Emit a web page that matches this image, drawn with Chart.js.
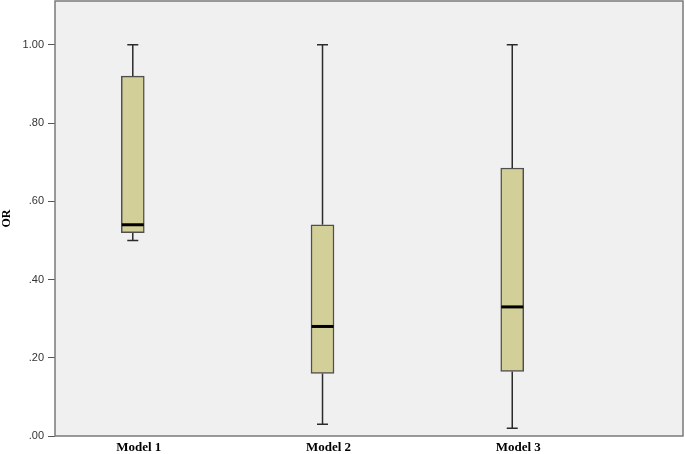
<!DOCTYPE html>
<html>
<head>
<meta charset="utf-8">
<script src="https://cdn.jsdelivr.net/npm/chart.js@4.4.1/dist/chart.umd.min.js"></script>
<style>
  html, body { margin: 0; padding: 0; background: #ffffff; }
  #wrap { width: 685px; height: 454px; }
</style>
</head>
<body>
<div id="wrap"><canvas id="boxChart"></canvas></div>
<script>
// box plot data
const categories = ["Model 1", "Model 2", "Model 3"];
const positions = [1, 2, 3];
const whiskerLow = [0.50, 0.03, 0.02];
const quartile1 = [0.52, 0.16, 0.165];
const medians = [0.54, 0.28, 0.33];
const quartile3 = [0.92, 0.54, 0.685];
const whiskerHigh = [1.00, 1.00, 1.00];
const yTicks = [0, 0.2, 0.4, 0.6, 0.8, 1.0];

const boxes = positions.map((p, i) => ({ x: p, y: [quartile1[i], quartile3[i]] }));

// plot background + frame
const frame = {
    id: "frame",
    beforeDraw(chart) {
        const a = chart.chartArea, c = chart.ctx;
        c.save();
        c.fillStyle = "#f0f0f0";
        c.fillRect(a.left, a.top, a.right - a.left, a.bottom - a.top);
        c.restore();
    },
    afterDraw(chart) {
        const a = chart.chartArea, c = chart.ctx;
        c.save();
        c.strokeStyle = "#7a7a7a";
        c.lineWidth = 1.5;
        c.strokeRect(a.left, a.top, a.right - a.left, a.bottom - a.top);
        c.restore();
    }
};

// whiskers behind the boxes, medians on top
const boxParts = {
    id: "boxParts",
    beforeDatasetsDraw(chart) {
        const xs = chart.scales.x, ys = chart.scales.y, c = chart.ctx;
        c.save();
        c.strokeStyle = "#2b2b2b";
        c.lineWidth = 1.5;
        positions.forEach((p, i) => {
            const x = xs.getPixelForValue(p);
            const cap = 5.5;
            const lo = ys.getPixelForValue(whiskerLow[i]);
            const hi = ys.getPixelForValue(whiskerHigh[i]);
            c.beginPath();
            c.moveTo(x, hi); c.lineTo(x, ys.getPixelForValue(quartile3[i]));
            c.moveTo(x, lo); c.lineTo(x, ys.getPixelForValue(quartile1[i]));
            c.moveTo(x - cap, hi); c.lineTo(x + cap, hi);
            c.moveTo(x - cap, lo); c.lineTo(x + cap, lo);
            c.stroke();
        });
        c.restore();
    },
    afterDatasetsDraw(chart) {
        const xs = chart.scales.x, ys = chart.scales.y, c = chart.ctx;
        const half = 11;
        c.save();
        c.strokeStyle = "#000000";
        c.lineWidth = 3;
        positions.forEach((p, i) => {
            const x = xs.getPixelForValue(p);
            const m = ys.getPixelForValue(medians[i]);
            c.beginPath();
            c.moveTo(x - half, m); c.lineTo(x + half, m);
            c.stroke();
        });
        c.restore();
    }
};

new Chart(document.getElementById("boxChart"), {
    type: "bar",
    data: {
        datasets: [{
            data: boxes,
            backgroundColor: "#d3cf99",
            borderColor: "#4f4f4f",
            borderWidth: 1.5,
            borderSkipped: false,
            barThickness: 23
        }]
    },
    options: {
        responsive: true,
        maintainAspectRatio: false,
        animation: false,
        layout: { padding: { top: 1, right: 2, left: 0, bottom: 0 } },
        plugins: {
            legend: { display: false },
            tooltip: { enabled: false }
        },
        scales: {
            x: {
                type: "linear",
                offset: false,
                min: 0.59,
                max: 3.9,
                afterBuildTicks(axis) {
                    axis.ticks = positions.map(v => ({ value: v }));
                },
                afterFit(axis) {
                    axis.height = 18;
                    axis.paddingLeft = 0;
                    axis.paddingRight = 0;
                },
                grid: { display: false, drawTicks: false },
                border: { display: false },
                ticks: {
                    padding: 4,
                    labelOffset: 6,
                    autoSkip: false,
                    maxRotation: 0,
                    color: "#000000",
                    font: { family: "Liberation Serif", size: 13, weight: "bold" },
                    callback: (v) => categories[positions.indexOf(v)] || ""
                }
            },
            y: {
                min: 0,
                max: 1.112,
                afterBuildTicks(axis) {
                    axis.ticks = yTicks.map(v => ({ value: v }));
                },
                afterFit(axis) {
                    axis.width = 55;
                    axis.paddingTop = 0;
                    axis.paddingBottom = 0;
                },
                grid: {
                    drawOnChartArea: false,
                    drawTicks: true,
                    tickLength: 7,
                    color: "#555555",
                    lineWidth: 1
                },
                border: { display: false },
                title: {
                    display: true,
                    text: "OR",
                    color: "#000000",
                    padding: 0,
                    font: { family: "Liberation Serif", size: 12, weight: "bold" }
                },
                ticks: {
                    padding: 4,
                    color: "#333333",
                    font: { family: "Liberation Sans", size: 11 },
                    callback: (v) => v === 1 ? "1.00" : v.toFixed(2).replace(/^0/, "")
                }
            }
        }
    },
    plugins: [frame, boxParts]
});
</script>
</body>
</html>
